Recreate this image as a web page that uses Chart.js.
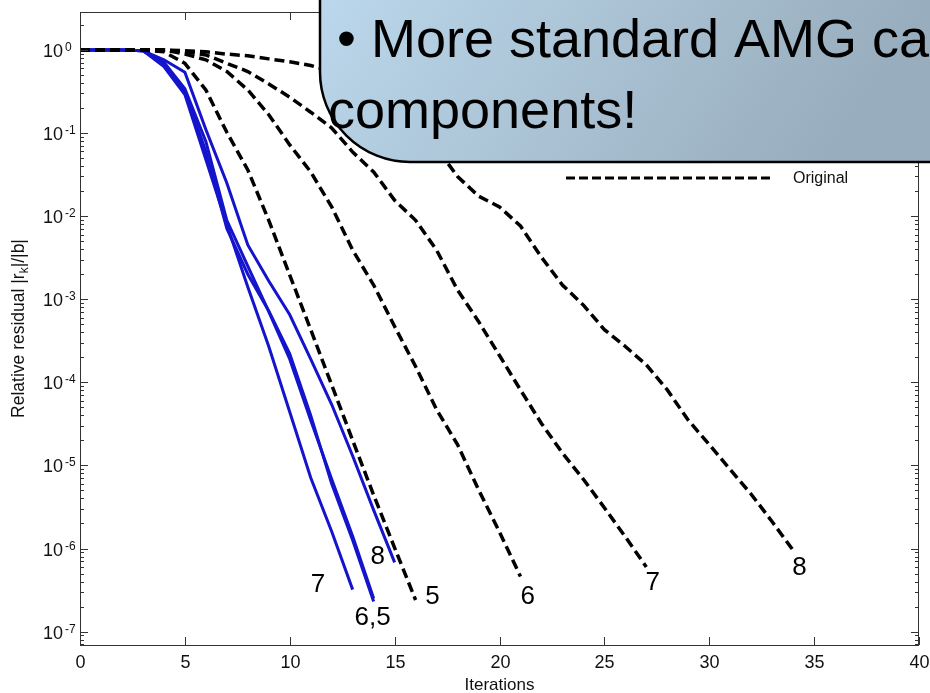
<!DOCTYPE html>
<html>
<head>
<meta charset="utf-8">
<script src="https://cdn.jsdelivr.net/npm/chart.js@4.4.1/dist/chart.umd.min.js"></script>
<style>
    html, body { margin: 0; padding: 0; background: #fff; }
    #grafico { width: 930px; height: 693px; }
</style>
</head>
<body>
<div id="grafico"><canvas width="930" height="693"></canvas></div>
<script>
const iteracoes = [0, 1, 2, 3, 4, 5, 6, 7, 8, 9, 10, 11, 12, 13, 14, 15, 16, 17, 18, 19, 20,
    21, 22, 23, 24, 25, 26, 27, 28, 29, 30, 31, 32, 33, 34];

// residuos relativos (curvas azuis)
const azul7 = [1, 1, 1, 0.98, 0.63, 0.29, 0.048, 7.9e-3, 1.4e-3, 2.7e-4, 4.4e-5, 7.1e-6, 1.6e-6, 3.2e-7];
const azul6 = [1, 1, 1, 0.98, 0.69, 0.32, 0.060, 7.1e-3, 2.0e-3, 7.2e-4, 2.2e-4, 4.0e-5, 6.0e-6, 1.26e-6, 2.3e-7];
const azul5 = [1, 1, 1, 0.98, 0.71, 0.34, 0.079, 8.9e-3, 2.5e-3, 7.1e-4, 1.9e-4, 3.5e-5, 6.8e-6, 1.4e-6, 2.5e-7];
const azul8 = [1, 1, 1, 0.98, 0.76, 0.54, 0.11, 0.025, 4.5e-3, 1.66e-3, 6.5e-4, 1.9e-4, 5.4e-5, 1.3e-5, 2.9e-6, 6.8e-7];

// curvas tracejadas (Original)
const original5 = [1, 1, 1, 1, 0.95, 0.69, 0.33, 0.102, 0.036, 8.9e-3, 1.95e-3, 4.3e-4, 9.3e-5, 2.0e-5, 4.4e-6, 1.02e-6, 2.4e-7];
const original6 = [1, 1, 1, 1, 1, 0.89, 0.76, 0.55, 0.33, 0.166, 0.072, 0.034, 0.0129, 3.9e-3, 1.48e-3, 4.7e-4,
    1.55e-4, 4.7e-5, 1.78e-5, 5.1e-6, 1.58e-6, 4.6e-7];
const original7 = [1, 1, 1, 1, 1, 0.95, 0.87, 0.69, 0.55, 0.39, 0.27, 0.178, 0.115, 0.059, 0.034, 0.0155, 8.9e-3,
    3.9e-3, 1.29e-3, 5.4e-4, 2.1e-4, 8.1e-5, 3.2e-5, 1.41e-5, 6.8e-6, 3.1e-6, 1.38e-6, 6.0e-7];
const original8 = [1, 1, 1, 1, 1, 0.98, 0.95, 0.89, 0.85, 0.78, 0.72, 0.65, 0.55, 0.44, 0.31, 0.22, 0.126, 0.066,
    0.030, 0.0174, 0.0129, 7.6e-3, 3.2e-3, 1.48e-3, 8.5e-4, 4.3e-4, 2.7e-4, 1.62e-4, 8.1e-5, 3.5e-5, 1.78e-5,
    8.9e-6, 4.5e-6, 2.1e-6, 9.5e-7];

// eixos
const ticksX = [0, 5, 10, 15, 20, 25, 30, 35, 40];
const expoentesY = [0, -1, -2, -3, -4, -5, -6, -7];

// rotulos no fim das curvas (iteracao, residuo)
const rotulos = ['7', '6,5', '8', '5', '6', '7', '8'];
const rotulosX = [11.35, 13.95, 14.2, 16.8, 21.35, 27.3, 34.3];
const rotulosY = [3.7e-7, 1.45e-7, 8.0e-7, 2.6e-7, 2.6e-7, 3.9e-7, 5.9e-7];

const legendaTexto = 'Original';
const caixaLinhas = ['\u2022 More standard AMG ca', 'components!'];

const grafico = document.querySelector('#grafico canvas');
const fonte = 'Arial, "Liberation Sans", sans-serif';

function pontos(serie) {
    return serie.map((r, i) => ({ x: iteracoes[i], y: r }));
}

function tracejada(serie) {
    return { data: pontos(serie), borderColor: '#000', borderWidth: 3.5, borderDash: [10, 5], pointRadius: 0, tension: 0, fill: false };
}

function azul(serie) {
    return { data: pontos(serie), borderColor: '#1414cc', borderWidth: 3, pointRadius: 0, tension: 0, fill: false };
}

const eixosPlugin = {
    id: 'eixosPlugin',
    afterDatasetsDraw(chart) {
        const { ctx, chartArea: a, scales: { x, y } } = chart;
        ctx.save();
        ctx.strokeStyle = '#333';
        ctx.lineWidth = 1;
        ctx.strokeRect(a.left + 0.5, a.top + 0.5, a.right - a.left - 1, a.bottom - a.top);

        ctx.fillStyle = '#111';
        ctx.font = '18px ' + fonte;
        ctx.textAlign = 'center';
        ctx.textBaseline = 'alphabetic';
        ticksX.forEach(v => {
            const px = Math.round(x.getPixelForValue(v)) + 0.5;
            ctx.beginPath();
            ctx.moveTo(px, a.bottom); ctx.lineTo(px, a.bottom - 8);
            ctx.moveTo(px, a.top); ctx.lineTo(px, a.top + 8);
            ctx.stroke();
            ctx.fillText(String(v), px, a.bottom + 23);
        });

        [1, ...expoentesY, -8].forEach(e => {
            for (let m = 1; m <= 9; m++) {
                const v = m * Math.pow(10, e);
                if (v < y.min || v > y.max) continue;
                const py = Math.round(y.getPixelForValue(v)) + 0.5;
                const len = m === 1 ? 8 : 4;
                ctx.beginPath();
                ctx.moveTo(a.left, py); ctx.lineTo(a.left + len, py);
                ctx.moveTo(a.right, py); ctx.lineTo(a.right - len, py);
                ctx.stroke();
            }
        });

        ctx.textAlign = 'left';
        expoentesY.forEach(e => {
            const py = y.getPixelForValue(Math.pow(10, e));
            ctx.font = '18px ' + fonte;
            ctx.fillText('10', 43, py + 7);
            ctx.font = '12px ' + fonte;
            ctx.fillText(String(e), 65, py + 1);
        });

        // titulo eixo x
        ctx.font = '17px ' + fonte;
        ctx.textAlign = 'center';
        ctx.textBaseline = 'top';
        ctx.fillText('Iterations', (a.left + a.right) / 2, 677);

        // titulo eixo y com subscrito
        ctx.save();
        ctx.translate(24, (a.top + a.bottom) / 2);
        ctx.rotate(-Math.PI / 2);
        ctx.textBaseline = 'alphabetic';
        ctx.textAlign = 'left';
        const p1 = 'Relative residual |r', p3 = '|/|b|';
        ctx.font = '17.5px ' + fonte;
        const w1 = ctx.measureText(p1).width, w3 = ctx.measureText(p3).width;
        ctx.font = '12px ' + fonte;
        const w2 = ctx.measureText('k').width;
        let cx = -(w1 + w2 + w3) / 2;
        ctx.font = '17.5px ' + fonte;
        ctx.fillText(p1, cx, 0); cx += w1;
        ctx.font = '12px ' + fonte;
        ctx.fillText('k', cx, 4); cx += w2;
        ctx.font = '17.5px ' + fonte;
        ctx.fillText(p3, cx, 0);
        ctx.restore();

        // legenda
        ctx.setLineDash([9, 4]);
        ctx.lineWidth = 3;
        ctx.strokeStyle = '#000';
        ctx.beginPath();
        ctx.moveTo(566, 178); ctx.lineTo(773, 178);
        ctx.stroke();
        ctx.setLineDash([]);
        ctx.font = '16px ' + fonte;
        ctx.textAlign = 'left';
        ctx.textBaseline = 'middle';
        ctx.fillText(legendaTexto, 793, 179);

        // rotulos das curvas
        ctx.fillStyle = '#000';
        ctx.font = '26px ' + fonte;
        ctx.textAlign = 'center';
        rotulos.forEach((t, i) => {
            ctx.fillText(t, x.getPixelForValue(rotulosX[i]), y.getPixelForValue(rotulosY[i]));
        });
        ctx.restore();
    },
    afterDraw(chart) {
        const ctx = chart.ctx;
        const L = 320, T = -20, R = 960, B = 162, r = 90;
        ctx.save();
        ctx.beginPath();
        ctx.moveTo(L, T);
        ctx.lineTo(R, T);
        ctx.lineTo(R, B);
        ctx.lineTo(L + r, B);
        ctx.arcTo(L, B, L, B - r, r);
        ctx.closePath();
        const grad = ctx.createLinearGradient(330, -30, 760, 260);
        grad.addColorStop(0, '#bcd8ec');
        grad.addColorStop(1, '#98adbd');
        ctx.fillStyle = grad;
        ctx.fill();
        ctx.lineWidth = 2.5;
        ctx.strokeStyle = '#000';
        ctx.stroke();
        ctx.fillStyle = '#000';
        ctx.font = '54px ' + fonte;
        ctx.textAlign = 'left';
        ctx.textBaseline = 'alphabetic';
        ctx.fillText(caixaLinhas[0], 337, 57);
        ctx.fillText(caixaLinhas[1], 328, 128);
        ctx.restore();
    }
};

const chartInstance = new Chart(grafico, {
    type: 'line',
    data: {
        datasets: [
            tracejada(original5), tracejada(original6), tracejada(original7), tracejada(original8),
            azul(azul7), azul(azul6), azul(azul5), azul(azul8)
        ]
    },
    options: {
        responsive: false,
        animation: false,
        devicePixelRatio: 1,
        events: [],
        layout: { padding: { left: 80, right: 11, top: 12, bottom: 48 } },
        plugins: { legend: { display: false }, tooltip: { enabled: false } },
        scales: {
            x: { type: 'linear', min: 0, max: 40, display: false },
            y: { type: 'logarithmic', min: 6.9e-8, max: 2.86, display: false }
        }
    },
    plugins: [eixosPlugin]
});
</script>
</body>
</html>
